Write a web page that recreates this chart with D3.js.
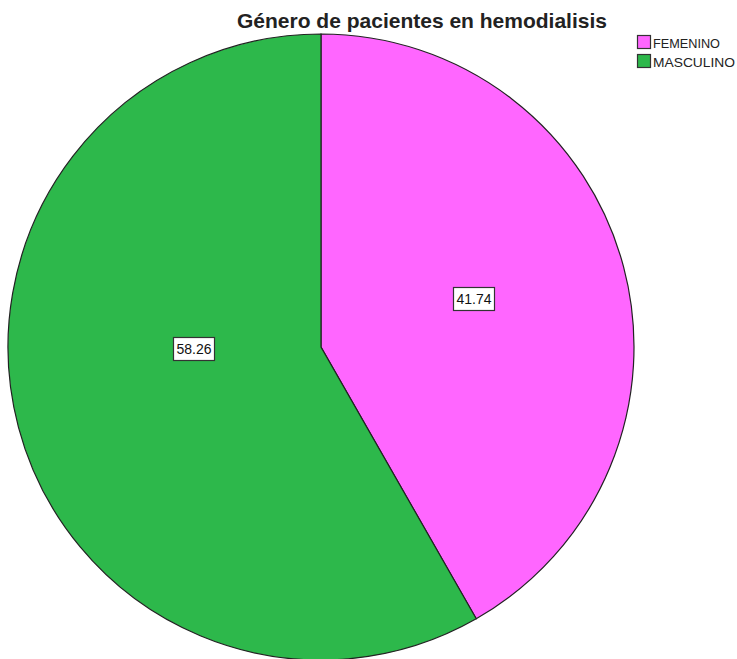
<!DOCTYPE html>
<html><head><meta charset="utf-8">
<script src="https://cdn.jsdelivr.net/npm/d3@7"></script>
<style>body{margin:0;background:#fff}svg{display:block}</style>
</head><body>
<script>
const categories = ["FEMENINO", "MASCULINO"];
const values = [41.74, 58.26];
const labels = ["41.74", "58.26"];
const colors = ["#FF66FF", "#2DB84B"];

const W = 737, H = 659;
const svg = d3.select("body").append("svg").attr("width", W).attr("height", H);

const cx = 321, cy = 347, R = 313;
const pie = d3.pie().sort(null).value(d => d)(values);
const arc = d3.arc().innerRadius(0).outerRadius(R);
const g = svg.append("g").attr("transform", `translate(${cx},${cy})`);
g.selectAll("path").data(pie).join("path")
  .attr("d", arc).attr("fill", (d, i) => colors[i])
  .attr("stroke", "#222").attr("stroke-width", 1.2);

// label placement offsets (layout)
const labelPos = [[153, -48], [-127, 2]];
pie.forEach((d, i) => {
  const [x, y] = labelPos[i];
  const t = g.append("text").attr("x", x).attr("y", y + 5)
    .attr("text-anchor", "middle").attr("font-family", "Liberation Sans, Arial")
    .attr("font-size", 14).attr("fill", "#111").text(labels[i]);
  const bb = t.node().getBBox();
  g.insert("rect", "text:last-of-type")
    .attr("x", x - 20.5).attr("y", y - 11.5).attr("width", 41).attr("height", 23)
    .attr("fill", "#fff").attr("stroke", "#333").attr("stroke-width", 1.2);
  t.raise();
});

svg.append("text").attr("x", 422).attr("y", 28).attr("text-anchor", "middle")
  .attr("font-family", "Liberation Sans, Arial").attr("font-weight", "bold")
  .attr("font-size", 21).attr("fill", "#222").text("Género de pacientes en hemodialisis");

const lg = svg.append("g");
const legLen = [67, 82];
categories.forEach((c, i) => {
  const y = 35 + i * 19;
  lg.append("rect").attr("x", 637.5).attr("y", y + 0.5).attr("width", 13).attr("height", 13)
    .attr("fill", colors[i]).attr("stroke", "#333").attr("stroke-width", 1.2);
  lg.append("text").attr("x", 653).attr("y", y + 13)
    .attr("font-family", "Liberation Sans, Arial").attr("font-size", 13.5)
    .attr("textLength", legLen[i]).attr("lengthAdjust", "spacingAndGlyphs")
    .attr("fill", "#222").text(c);
});
</script>
</body></html>
